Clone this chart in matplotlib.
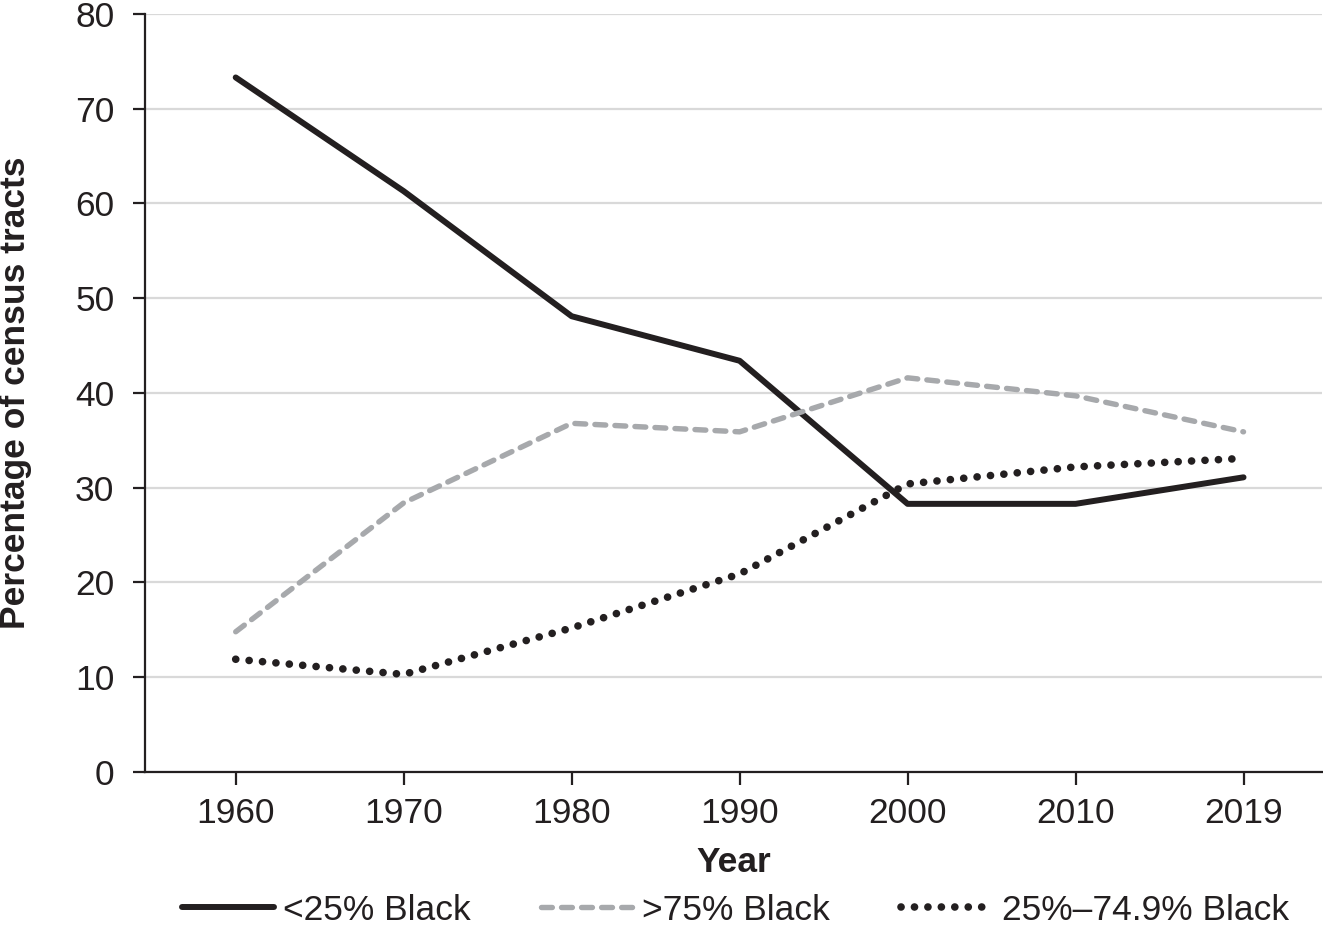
import numpy as np
import matplotlib
matplotlib.use('Agg')
from matplotlib import pyplot as plt

plt.rcParams['font.family'] = ['Liberation Sans', 'DejaVu Sans']

years = ['1960', '1970', '1980', '1990', '2000', '2010', '2019']
under25 = [73.3, 61.3, 48.1, 43.4, 28.3, 28.3, 31.1]
over75 = [14.8, 28.4, 36.8, 35.9, 41.6, 39.7, 35.9]
mid25_75 = [11.9, 10.3, 15.2, 20.9, 30.4, 32.2, 33.1]

dark = '#231f20'
grey = '#a7a9ac'
fs = 25.5

fig = plt.figure(figsize=(13.23, 9.25), dpi=100)
ax = fig.add_axes([0.1096, 0.1654, 0.89, 0.8195])

x = np.arange(len(years))
ax.plot(x, under25, color=dark, lw=4.3, solid_capstyle='round', label='<25% Black', zorder=3)
ax.plot(x, over75, color=grey, lw=3.9, linestyle=(0, (2.0, 1.7)), dash_capstyle='round',
        label='>75% Black', zorder=3)
ax.plot(x, mid25_75, color=dark, lw=5.5, linestyle=(0, (0.01, 1.75)), dash_capstyle='round',
        label='25%\u201374.9% Black', zorder=3)

ax.set_xlim(-0.54, 6.47)
ax.set_ylim(0, 80)
ax.set_yticks(range(0, 81, 10))
ax.set_xticks(x)
ax.set_xticklabels(years)
ax.yaxis.grid(True, color='#d9d9d9', lw=1.6, zorder=0)
ax.set_axisbelow(True)

for s in ['top', 'right']:
    ax.spines[s].set_visible(False)
for s in ['left', 'bottom']:
    ax.spines[s].set_color(dark)
    ax.spines[s].set_linewidth(1.6)
    ax.spines[s].set_zorder(4)

ax.tick_params(axis='both', direction='out', length=9, width=1.6, color=dark,
               labelsize=fs, labelcolor=dark)
ax.tick_params(axis='x', pad=9)
ax.tick_params(axis='y', pad=13)

ax.set_xlabel('Year', fontsize=fs, fontweight='bold', color=dark)
ax.xaxis.set_label_coords(0.5, -0.097)
ax.set_ylabel('Percentage of census tracts', fontsize=fs, fontweight='bold', color=dark)
ax.yaxis.set_label_coords(-0.096, 0.5)

fig.legend(loc='center', bbox_to_anchor=(0.556, 0.016), ncol=3, frameon=False, fontsize=fs,
           handlelength=2.6, handletextpad=0.25, columnspacing=2.0, labelcolor=dark)

fig.savefig('out.png', dpi=100)
